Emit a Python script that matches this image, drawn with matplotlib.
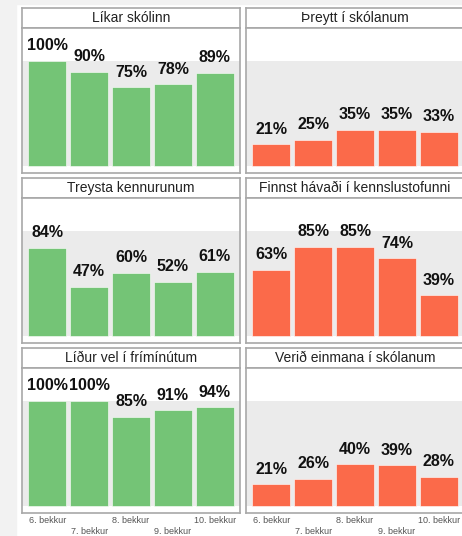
import matplotlib
matplotlib.use("Agg")
import matplotlib.pyplot as plt
from matplotlib.patches import Rectangle

plt.rcParams["font.family"] = ["Liberation Sans", "DejaVu Sans"]

# Data
grades = ["6. bekkur", "7. bekkur", "8. bekkur", "9. bekkur", "10. bekkur"]

likar_skolinn = [100, 90, 75, 78, 89]
threytt = [21, 25, 35, 35, 33]
treysta_kennurum = [84, 47, 60, 52, 61]
havadi = [63, 85, 85, 74, 39]
lidur_vel = [100, 100, 85, 91, 94]
einmana = [21, 26, 40, 39, 28]

titles = [
    "Líkar skólinn", "Þreytt í skólanum",
    "Treysta kennurunum", "Finnst hávaði í kennslustofunni",
    "Líður vel í frímínútum", "Verið einmana í skólanum",
]
series = [likar_skolinn, threytt, treysta_kennurum, havadi, lidur_vel, einmana]

GREEN = "#74c476"
RED = "#fb6a4a"
colors = [GREEN, RED, GREEN, RED, GREEN, RED]

W, H = 462, 536
fig = plt.figure(figsize=(W / 100, H / 100), dpi=100)

# screenshot margins
fig.patches.append(Rectangle((0, 0), 16 / W, 1, transform=fig.transFigure,
                             color="#f2f2f2", zorder=0))
fig.patches.append(Rectangle((0, 1 - 4 / H), 1, 4 / H, transform=fig.transFigure,
                             color="#f2f2f2", zorder=0))


def px(x0, y0, w, h):
    return [x0 / W, 1 - (y0 + h) / H, w / W, h / H]


col_x = [22, 246]
row_y = [8, 178, 348]
border = "#a8a8a8"

for i, (title, vals, c) in enumerate(zip(titles, series, colors)):
    r, k = divmod(i, 2)
    x0 = col_x[k]
    y0 = row_y[r]

    # strip
    sax = fig.add_axes(px(x0, y0, 218, 20))
    sax.set_xticks([])
    sax.set_yticks([])
    for s in sax.spines.values():
        s.set_color(border)
        s.set_linewidth(1.2)
    sax.text(0.5, 0.5, title, ha="center", va="center", fontsize=10,
             color="#222222", transform=sax.transAxes)

    # panel
    ax = fig.add_axes(px(x0, y0 + 20, 218, 145))
    pos = list(range(1, len(grades) + 1))
    ax.axhspan(0, 100, color="#ebebeb", zorder=0, lw=0)
    ax.bar(pos, vals, width=0.9, color=c, edgecolor="white", linewidth=0.4,
           zorder=2)
    for x, v in zip(pos, vals):
        ax.annotate(f"{v}%", (x, v), xytext=(0, 5.5), textcoords="offset points",
                    ha="center", va="bottom", fontsize=11.5, fontweight="bold",
                    color="#111111")
    ax.set_xlim(0.4, 5.6)
    ax.set_ylim(-6.25, 131.25)
    ax.set_yticks([])
    for s in ax.spines.values():
        s.set_color(border)
        s.set_linewidth(1.2)

    if r == 2:
        ax.set_xticks(pos)
        ax.set_xticklabels(grades, fontsize=6.5, color="#555555")
        ax.tick_params(axis="x", length=0)
        for j, t in enumerate(ax.xaxis.get_major_ticks()):
            t.set_pad(2.5 if j % 2 == 0 else 10)
    else:
        ax.set_xticks([])

fig.savefig("out.png", dpi=100)
